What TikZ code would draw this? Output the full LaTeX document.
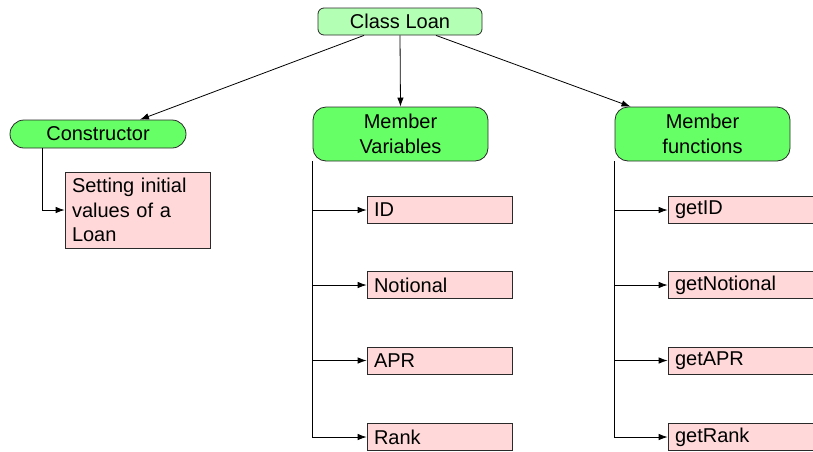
\documentclass[tikz,border=0pt]{standalone}
\usepackage{fontspec}
\setmainfont{Liberation Sans}
\usetikzlibrary{arrows.meta}
\definecolor{lgreen}{HTML}{B3FFB3}
\definecolor{mgreen}{HTML}{66FF66}
\definecolor{lpink}{HTML}{FFD9D9}
\definecolor{edge}{HTML}{2A2A2A}
\begin{document}
\begin{tikzpicture}[x=1pt,y=-1pt,
  font=\fontsize{20}{24.5}\selectfont,
  topbox/.style={draw=edge, line width=0.8pt, rounded corners=6pt, fill=lgreen, minimum width=164pt, minimum height=27pt, inner sep=0pt},
  grpbox/.style={draw=edge, line width=0.8pt, rounded corners=13pt, fill=mgreen, minimum width=175pt, minimum height=54pt, align=center, inner sep=0pt},
  pillbox/.style={draw=edge, line width=0.8pt, rounded corners=14pt, fill=mgreen, minimum width=176pt, minimum height=28pt, inner sep=0pt},
  itembox/.style={draw=edge, line width=0.8pt, fill=lpink, minimum height=27pt, text width=131pt, align=left, inner xsep=7pt, inner ysep=0pt},
  arr/.style={draw=black, line width=0.8pt, -{Latex[length=9pt,width=6.5pt]}},
  conn/.style={draw=black, line width=0.8pt}]
\useasboundingbox (0,0) rectangle (813,451);

\node[topbox] (cl) at (400,21.5) {Class Loan};
\node[pillbox] (con) at (98,134) {Constructor};
\node[grpbox] (mv) at (400.5,134) {Member\\Variables};
\node[grpbox] (mf) at (702.5,134) {Member\\functions};

\node[itembox, minimum height=76pt] (set) at (137.5,210) {Setting initial values of a Loan};

\node[itembox] (id) at (439.5,210) {ID};
\node[itembox] (no) at (439.5,285) {Notional};
\node[itembox] (apr) at (439.5,360.5) {APR};
\node[itembox] (rk) at (439.5,437) {Rank};

\node[itembox] (gid) at (740.5,210) {getID};
\node[itembox] (gno) at (740.5,285) {getNotional};
\node[itembox] (gapr) at (740.5,360.5) {getAPR};
\node[itembox] (grk) at (740.5,437) {getRank};

\draw[arr] ([xshift=-36pt]cl.south) -- ([xshift=42pt]con.north);
\draw[arr] (cl.south) -- (mv.north);
\draw[arr] ([xshift=36pt]cl.south) -- ([xshift=-72pt]mf.north);

\draw[arr] ([xshift=-56pt]con.south) |- (set.west);

\foreach \t in {id,no,apr,rk} \draw[arr] (mv.south west) |- (\t.west);
\foreach \t in {gid,gno,gapr,grk} \draw[arr] (mf.south west) |- (\t.west);
\end{tikzpicture}
\end{document}
